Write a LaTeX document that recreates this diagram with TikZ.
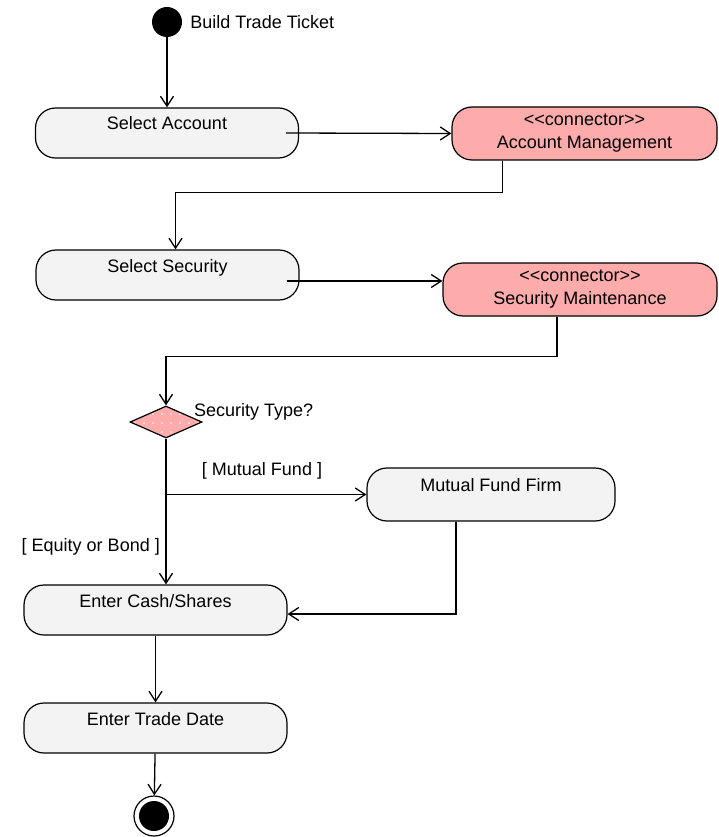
\documentclass[tikz,border=0pt]{standalone}
\usepackage{fontspec}
\setmainfont{Liberation Sans}
\usetikzlibrary{positioning,shapes.geometric,arrows.meta,patterns.meta}
\definecolor{actgray}{HTML}{F3F3F3}
\definecolor{connpink}{HTML}{FDABAB}
\begin{document}
\begin{tikzpicture}[
    x=1pt, y=-1pt,
    font=\fontsize{18}{23}\selectfont,
    act/.style={draw, line width=1.2pt, fill=actgray, rounded corners=20pt, minimum width=263pt, minimum height=50pt, text height=12pt, text depth=18pt},
    conn/.style={draw, line width=1.2pt, fill=connpink, rounded corners=20pt, minimum height=53pt, align=center},
    choice/.style={diamond, draw, line width=1.2pt, preaction={fill=connpink}, pattern={Dots[distance=9pt, radius=0.9pt]}, pattern color=white, minimum width=72pt, minimum height=32pt, inner sep=0pt, aspect=2.25},
    arrow/.style={-{Straight Barb[length=10pt, width=13pt]}, line width=1.3pt},
    lbl/.style={inner sep=0pt}
]
\useasboundingbox (0,0) rectangle (718,837);

% Initial node
\node[circle, fill=black, minimum size=30pt, inner sep=0pt] (start) at (167,22) {};
\node[lbl, right=8pt of start] (startlbl) {Build Trade Ticket};

% Activities on the left
\node[act] (selacc) at (167,133) {Select Account};
\node[act] (selsec) at (167.5,275) {Select Security};
\node[choice] (sectype) at (166,422) {};
\node[lbl, anchor=west] (sectypelbl) at (194,412) {Security Type?};
\node[act] (cash) at (155.5,610) {Enter Cash/Shares};
\node[act] (tdate) at (155.5,728) {Enter Trade Date};

% Final node
\node[circle, draw, line width=1.2pt, fill=white, minimum size=40pt, inner sep=0pt,
      path picture={\fill[black] (path picture bounding box.center) circle (15pt);}] (final) at (154,816) {};

% Connectors and other activities on the right
\node[conn, minimum width=265pt] (accmgmt) at (584.5,133.5) {<\kern0pt<connector>\kern0pt>\\Account Management};
\node[conn, minimum width=274pt] (secmaint) at (580,289.5) {<\kern0pt<connector>\kern0pt>\\Security Maintenance};
\node[act, minimum width=248pt, minimum height=53pt] (mff) at (491,494.5) {Mutual Fund Firm};

% Guards
\node[lbl] (mflbl) at (262,471) {[ Mutual Fund ]};
\node[lbl, anchor=east] (eqlbl) at (160,547) {[ Equity or Bond ]};

% Flow
\coordinate (fork) at (sectype.south |- mff.west);
\draw[arrow] (start) -- (selacc);
\draw[arrow] ([xshift=-13pt]selacc.east) -- (accmgmt.west);
\draw[arrow] ([xshift=-82pt]accmgmt.south) -- ++(0,32) -| ([xshift=8pt]selsec.north);
\draw[arrow] ([xshift=-13pt, yshift=-6pt]selsec.east) -- ([yshift=-6pt]selsec.east -| secmaint.west);
\draw[arrow] ([xshift=-23pt]secmaint.south) -- ++(0,40) -| (sectype.north);
\draw[arrow] (sectype.south) -- (sectype.south |- cash.north);
\draw[arrow] (fork) -- (mff.west);
\draw[arrow] ([xshift=-35pt]mff.south) |- ([yshift=-4pt]cash.east);
\draw[arrow] (cash) -- (tdate);
\draw[arrow] (tdate) -- (final);

\end{tikzpicture}
\end{document}
